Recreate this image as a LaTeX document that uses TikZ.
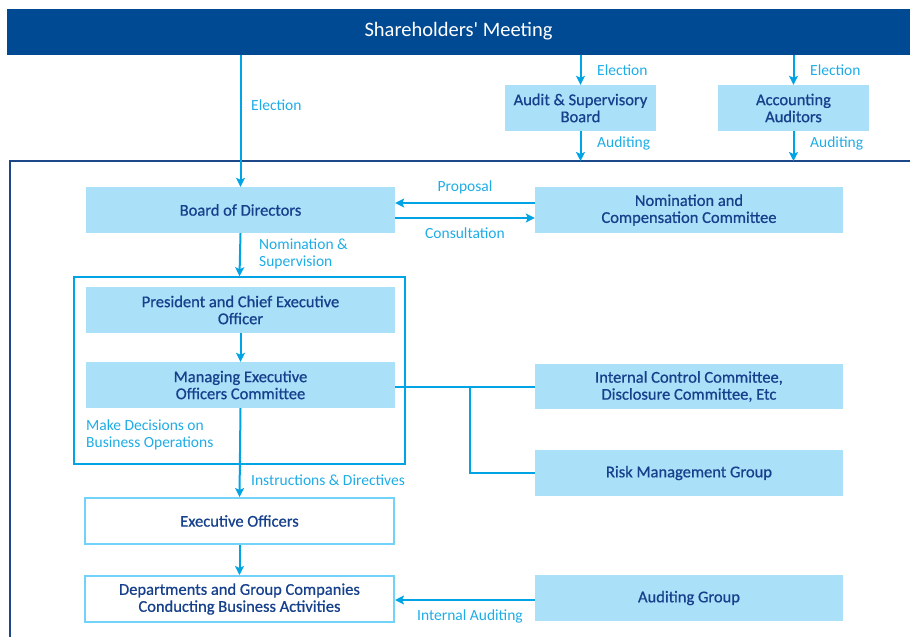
\documentclass[tikz,border=0pt]{standalone}
\usepackage{fontspec}
\setmainfont{Carlito}
\newfontfamily\barfont{Carlito}
\newfontfamily\boxfont{Carlito}[FakeBold=0.7]
\usetikzlibrary{arrows.meta}

\definecolor{barblue}{RGB}{0,74,147}
\definecolor{framenavy}{RGB}{28,72,138}
\definecolor{boxblue}{RGB}{170,224,248}
\definecolor{linecyan}{RGB}{0,164,228}
\definecolor{paleline}{RGB}{115,210,250}
\definecolor{textnavy}{RGB}{22,64,140}
\definecolor{labelcyan}{RGB}{30,172,230}

\begin{document}
\begin{tikzpicture}[x=1pt,y=-1pt,
    >={Stealth[length=9pt,width=9pt,inset=2pt]},
    box/.style={fill=boxblue,text=textnavy,align=center,inner sep=0pt,
      minimum width=309pt,minimum height=46pt,font=\boxfont\fontsize{16.5}{17}\selectfont},
    smallbox/.style={box,minimum width=151pt},
    openbox/.style={box,fill=white,draw=paleline,line width=2pt},
    lbl/.style={text=labelcyan,align=left,inner sep=0pt,font=\fontsize{15.5}{17}\selectfont},
    link/.style={draw=linecyan,line width=2pt}]
    \useasboundingbox (0,0) rectangle (910,637);

    % top bar and the company frame
    \node[fill=barblue,text=white,inner sep=0pt,minimum width=903pt,minimum height=46pt,
      font=\barfont\fontsize{20.5}{22}\selectfont] (sh) at (458.5,31.5) {Shareholders' Meeting};
    \draw[framenavy,line width=2pt] (912,161) -- (10,161) -- (10,640);
    \coordinate (ftop) at (10,161);

    \node[smallbox] (asb) at (580.5,108) {Audit \& Supervisory\\Board};
    \node[smallbox] (acc) at (793.5,108) {Accounting\\Auditors};

    \node[box] (bod) at (240.5,210) {Board of Directors};
    \node[box,minimum width=308pt] (ncc) at (689,210) {Nomination and\\Compensation Committee};

    \node[draw=linecyan,line width=1.5pt,inner sep=0pt,minimum width=331pt,minimum height=187pt] (dec) at (239.5,370.5) {};
    \node[box] (pceo) at (240.5,310) {President and Chief Executive\\Officer};
    \node[box] (meoc) at (240.5,385) {Managing Executive\\Officers Committee};

    \node[box,minimum width=308pt,minimum height=45pt] (icc) at (689,386.5) {Internal Control Committee,\\Disclosure Committee, Etc};
    \node[box,minimum width=308pt] (rmg) at (689,473) {Risk Management Group};

    \node[openbox] (eo) at (239.5,521) {Executive Officers};
    \node[openbox] (dept) at (239.5,599) {Departments and Group Companies\\Conducting Business Activities};
    \node[box,minimum width=308pt] (ag) at (689,598) {Auditing Group};

    % elections and auditing
    \draw[link,->] (bod.north |- sh.south) -- (bod.north);
    \draw[link,->] (asb.north |- sh.south) -- (asb.north);
    \draw[link,->] (acc.north |- sh.south) -- (acc.north);
    \draw[link,->] (asb.south) -- (asb.south |- ftop);
    \draw[link,->] (acc.south) -- (acc.south |- ftop);
    \node[lbl,anchor=west] (l1) at (251,105) {Election};
    \node[lbl,anchor=west] (l2) at (597,70) {Election};
    \node[lbl,anchor=west] (l3) at (810,70) {Election};
    \node[lbl,anchor=west] (l4) at (597,143) {Auditing};
    \node[lbl,anchor=west] (l5) at (810,143) {Auditing};

    % board and committee
    \draw[link,->] ([yshift=7pt]ncc.west) -- ([yshift=7pt]ncc.west -| bod.east);
    \draw[link,->] ([yshift=-8pt]bod.east) -- ([yshift=-8pt]bod.east -| ncc.west);
    \node[lbl] (l6) at (465,187) {Proposal};
    \node[lbl] (l7) at (465,233) {Consultation};

    % line of execution
    \draw[link,->] (bod.south) -- (dec.north);
    \node[lbl,anchor=west] (l8) at (259,253.5) {Nomination \&\\Supervision};
    \draw[link,->] (pceo.south) -- (meoc.north);
    \node[lbl,anchor=west] (l9) at (86,435) {Make Decisions on\\Business Operations};
    \draw[link,->] (meoc.south) -- (eo.north);
    \node[lbl,anchor=west] (l10) at (251,480) {Instructions \& Directives};
    \draw[link,->] (eo.south) -- (dept.north);

    % committees beside the managing officers
    \coordinate (br) at (470,387);
    \draw[link] (meoc.east |- br) -- (icc.west |- br);
    \draw[link] (br) |- (rmg.west);

    \draw[link,->] (ag.west |- 0,600) -- (dept.east |- 0,600);
    \node[lbl] (l11) at (470,616) {Internal Auditing};
\end{tikzpicture}
\end{document}
